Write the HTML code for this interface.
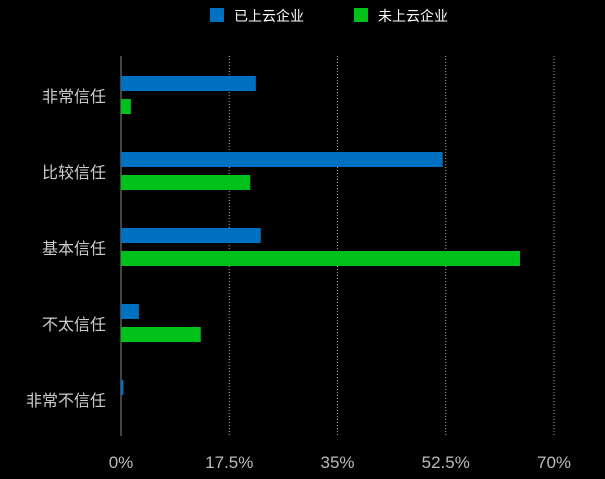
<!DOCTYPE html>
<html><head><meta charset="utf-8"><style>
html,body{margin:0;padding:0;background:#000;}
svg{display:block;}
text{font-family:"Liberation Sans","Noto Sans CJK SC",sans-serif;}
</style></head><body>
<svg id="chart" width="605" height="479">
<g>
<rect x="210" y="8" width="14" height="14" fill="#0070c0"/>
<text x="234" y="21" fill="#fff" font-size="14">已上云企业</text>
<rect x="354" y="8" width="14" height="14" fill="#00c01a"/>
<text x="378" y="21" fill="#fff" font-size="14">未上云企业</text>
</g>
<g id="grid"></g><g id="bars"></g><g id="labels"></g>
</svg>
<script>
const categories=["非常信任","比较信任","基本信任","不太信任","非常不信任"];
const cloudValues=[21.8,52.0,22.6,2.9,0.4];
const nonCloudValues=[1.6,20.9,64.5,12.9,0];
const tickValues=[0,17.5,35,52.5,70];
const tickLabels=["0%","17.5%","35%","52.5%","70%"];
const ns="http://www.w3.org/2000/svg";
const x0=121,x1=554,yTop=56,yBot=436,maxV=70;
const xs=v=>x0+(v/maxV)*(x1-x0);
const band=(yBot-yTop)/categories.length;
function mk(t,a,p){const e=document.createElementNS(ns,t);for(const k in a)e.setAttribute(k,a[k]);p.appendChild(e);return e;}
const grid=document.getElementById('grid'),bars=document.getElementById('bars'),labels=document.getElementById('labels');
tickValues.forEach((v,i)=>{
 const x=xs(v);
 const l=mk('line',{x1:x,x2:x,y1:yTop,y2:yBot,stroke:i===0?'#888':'#aaa','stroke-width':1,'stroke-dasharray':i===0?'':'1,2'},grid);
 
 
 const t=mk('text',{x:x,y:468,fill:'#bbb','font-size':17,'text-anchor':'middle'},labels);
 t.textContent=tickLabels[i];
 
 
});
categories.forEach((c,i)=>{
 const y=yTop+band*i;
 const b1=mk('rect',{x:x0,y:y+20,width:xs(cloudValues[i])-x0,height:15,fill:'#0070c0'},bars);
 
 
 const b2=mk('rect',{x:x0,y:y+43,width:xs(nonCloudValues[i])-x0,height:15,fill:'#00c01a'},bars);
 
 
 const t=mk('text',{x:106,y:y+46,fill:'#ccc','font-size':16,'text-anchor':'end'},labels);
 t.textContent=c;
 
 
});
</script>
</body></html>
